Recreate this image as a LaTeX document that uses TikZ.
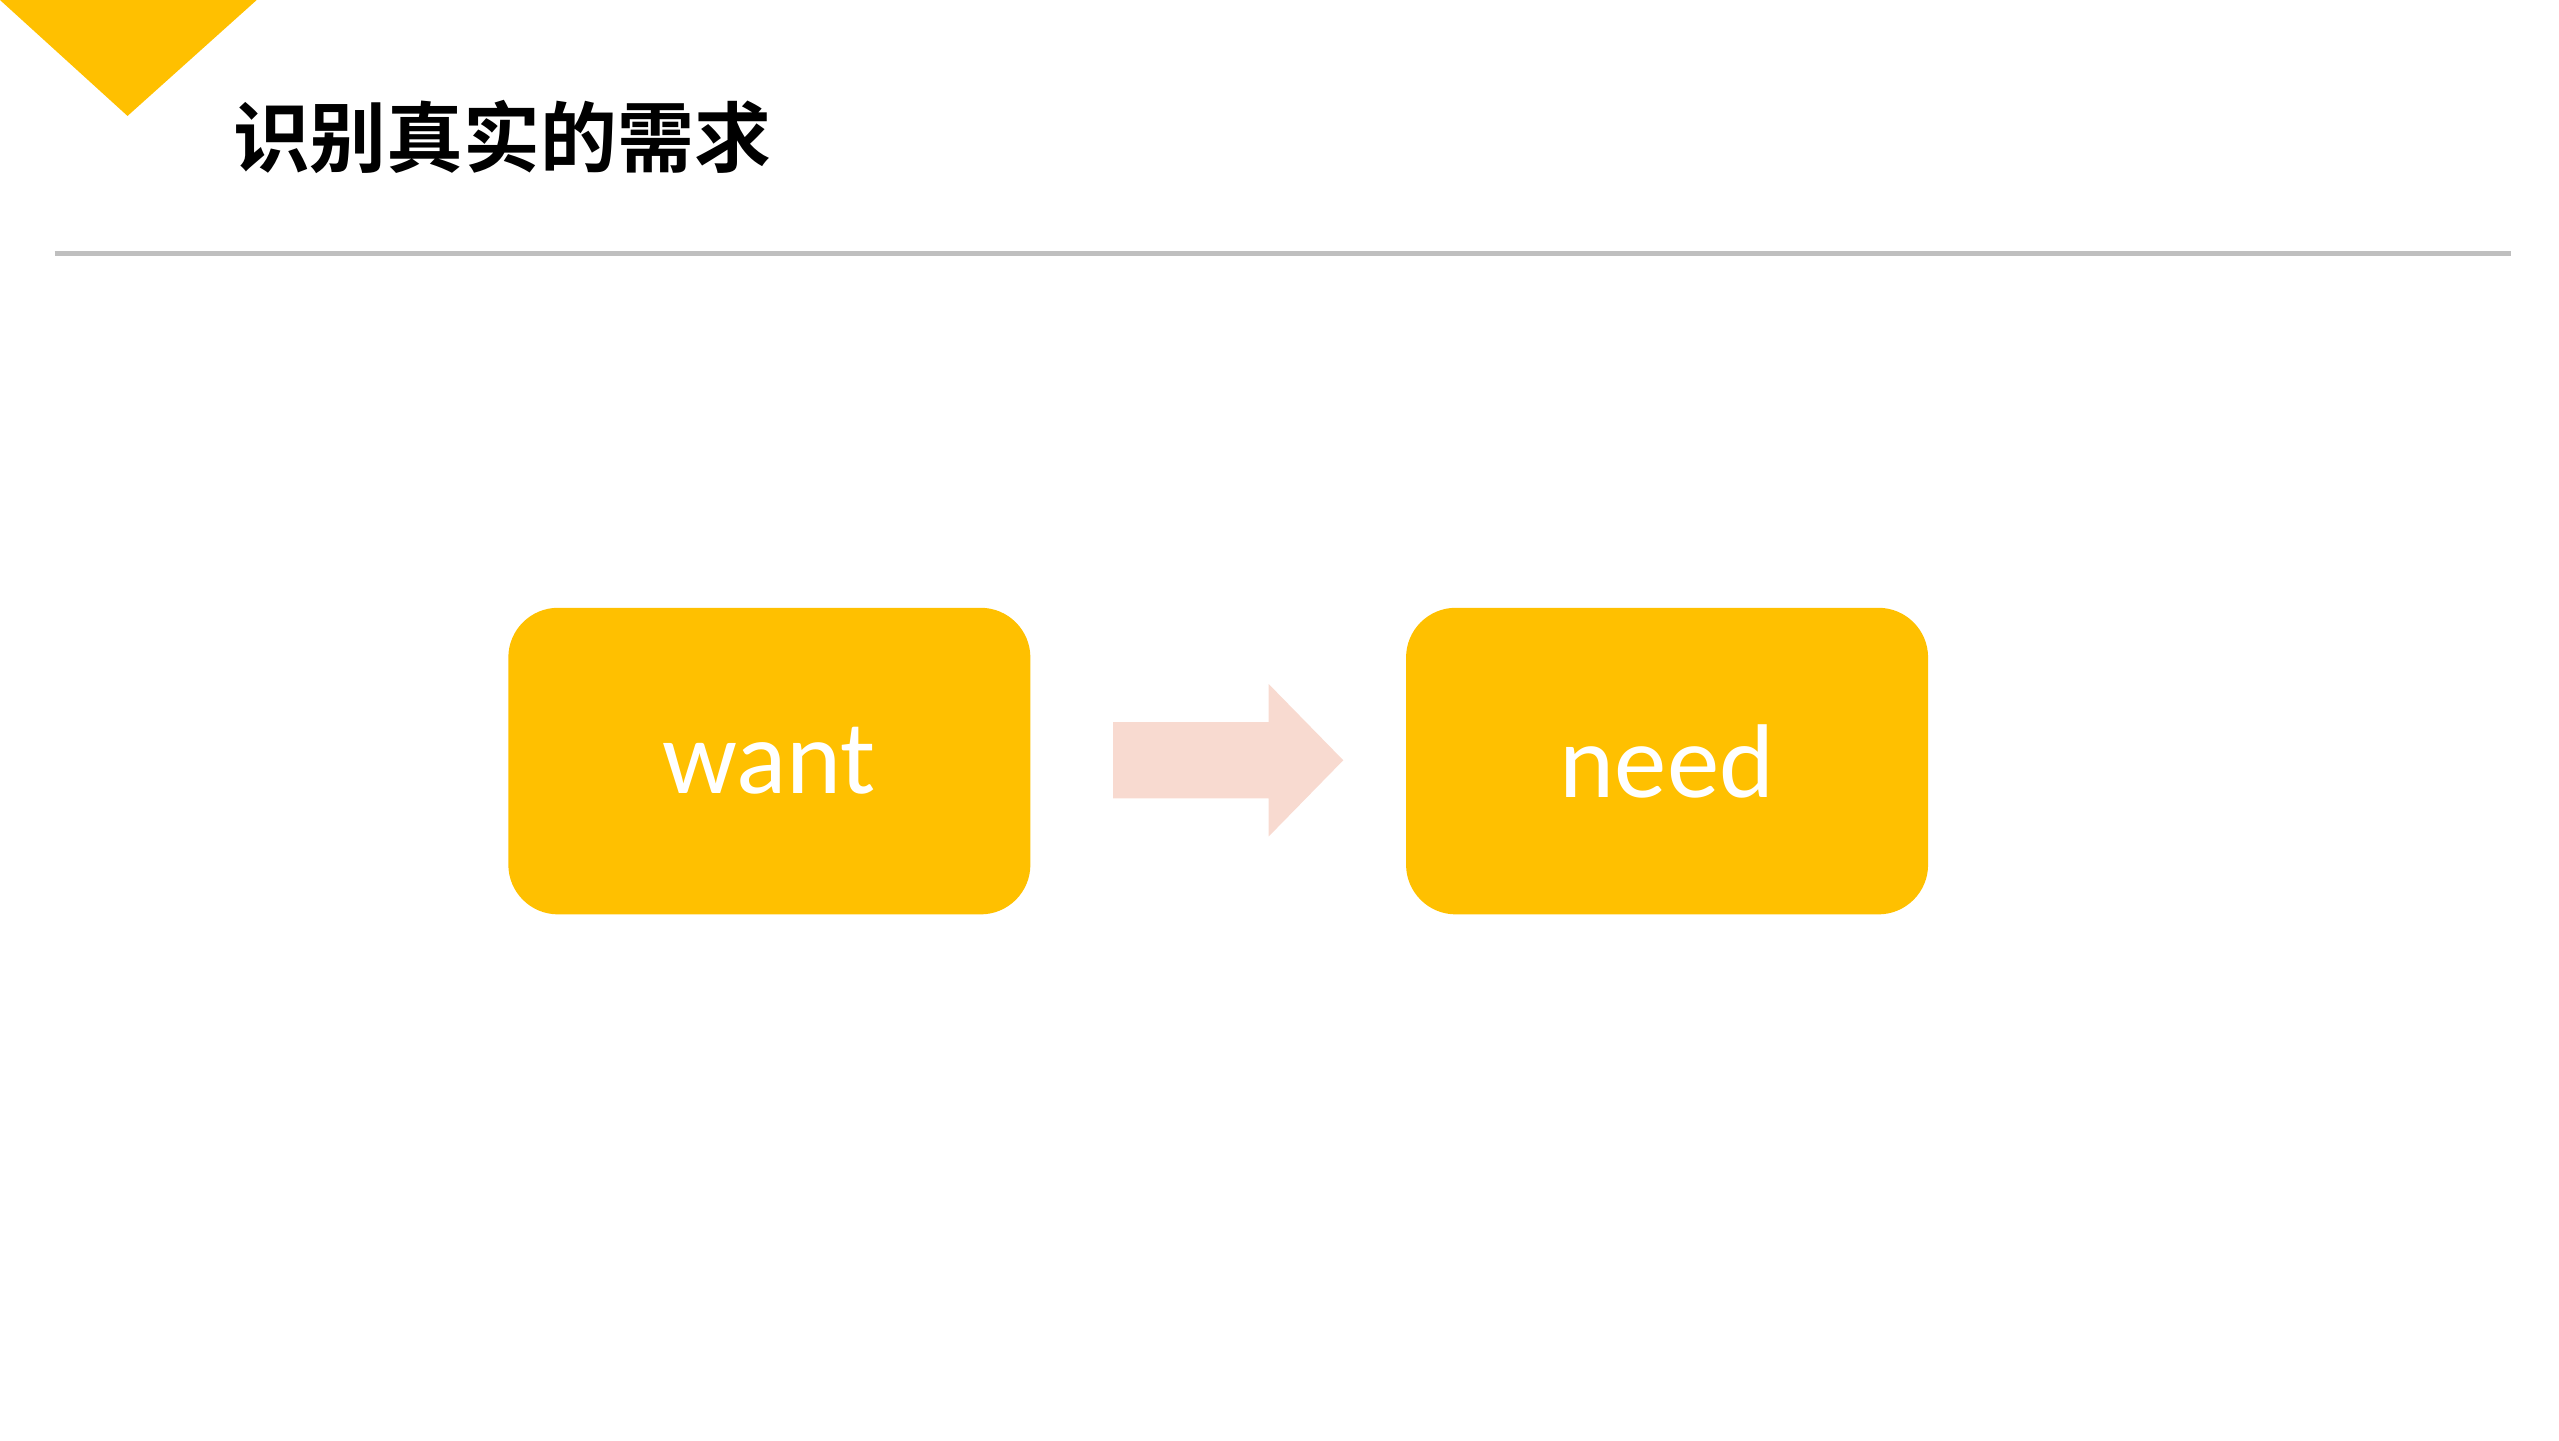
\documentclass[tikz,border=0pt]{standalone}
\usepackage{fontspec}
\setmainfont{Carlito}
\newfontfamily\cjk{Noto Sans CJK SC Bold}
\definecolor{gold}{HTML}{FFC000}
\definecolor{pinkish}{HTML}{F8DAD0}
\definecolor{rulegray}{HTML}{BFBFBF}
\begin{document}
\begin{tikzpicture}[x=0.01cm,y=-0.01cm,
  box/.style={fill=gold,rounded corners=0.3cm,minimum width=3.15cm,minimum height=1.85cm,inner sep=0,text=white,font=\fontsize{18}{20}\selectfont}]
\useasboundingbox (0,0) rectangle (1545,869.5);
\fill[gold] (0,0) -- (155,0) -- (77,70) -- cycle;
\node[anchor=west,inner sep=0,font=\cjk\fontsize{13.2}{15}\selectfont] (title) at (140,83) {识别真实的需求};
\draw[rulegray,line width=0.03cm] (33,153) -- (1516,153);
\node[box] (want) at (464.5,459.5) {want};
\node[box] (need) at (1006.5,459.5) {need};
\fill[pinkish] (672,436) -- (766,436) -- (766,413) -- (811,459) -- (766,505) -- (766,482) -- (672,482) -- cycle;
\end{tikzpicture}
\end{document}
